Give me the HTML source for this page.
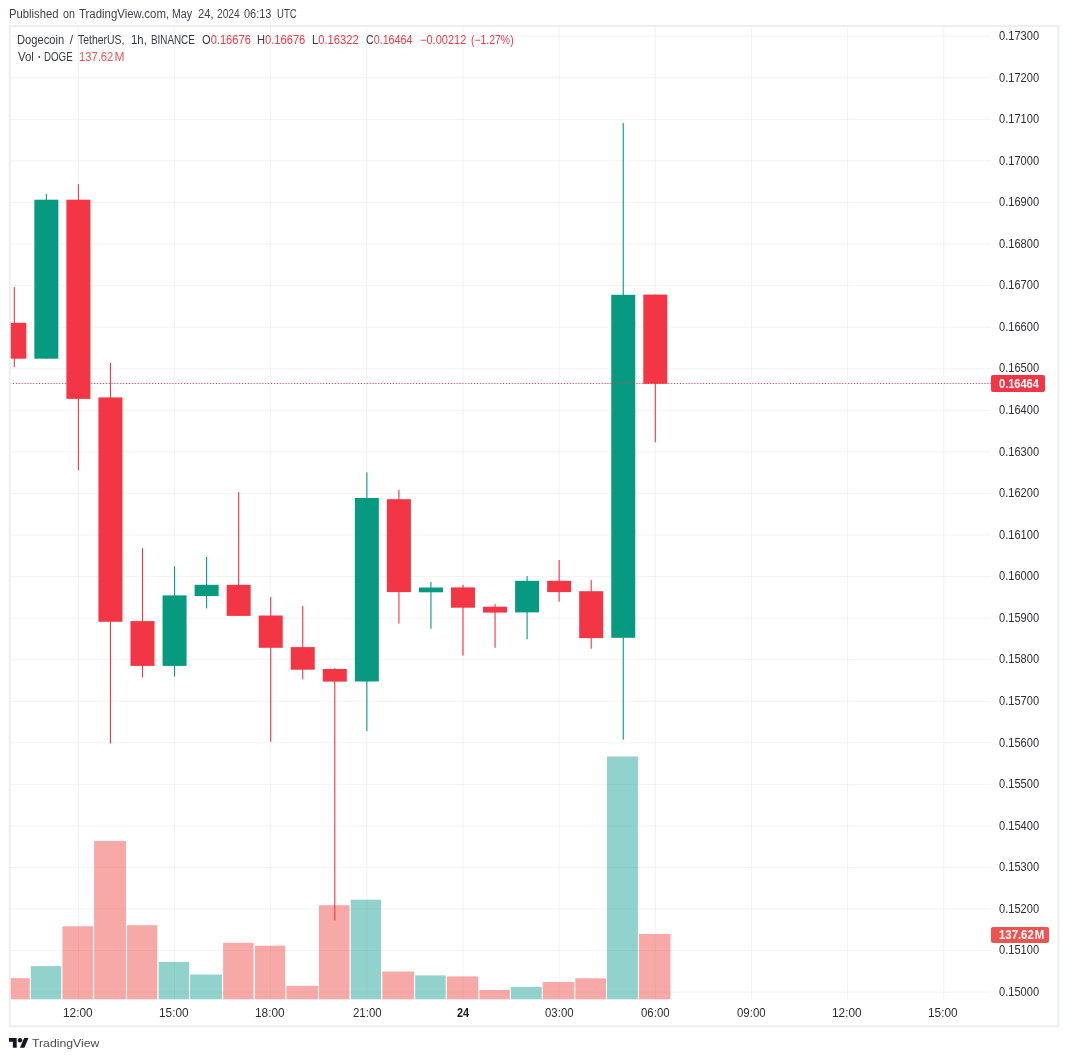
<!DOCTYPE html>
<html><head><meta charset="utf-8"><title>DOGEUSDT chart</title>
<style>
html,body{margin:0;padding:0;background:#fff}
body{width:1068px;height:1060px;position:relative;overflow:hidden;font-family:"Liberation Sans",sans-serif;color:#131722}
.t{position:absolute;white-space:nowrap;line-height:16px;height:16px;transform-origin:0 0}
.tag{position:absolute;left:991px;border-radius:2px}
</style></head><body>
<svg width="1068" height="1060" viewBox="0 0 1068 1060" style="position:absolute;left:0;top:0"><g fill="rgba(42,46,57,0.06)"><rect x="10.0" y="991.69" width="981.00" height="1"/><rect x="10.0" y="950.13" width="981.00" height="1"/><rect x="10.0" y="908.56" width="981.00" height="1"/><rect x="10.0" y="867.00" width="981.00" height="1"/><rect x="10.0" y="825.43" width="981.00" height="1"/><rect x="10.0" y="783.87" width="981.00" height="1"/><rect x="10.0" y="742.30" width="981.00" height="1"/><rect x="10.0" y="700.74" width="981.00" height="1"/><rect x="10.0" y="659.17" width="981.00" height="1"/><rect x="10.0" y="617.61" width="981.00" height="1"/><rect x="10.0" y="576.04" width="981.00" height="1"/><rect x="10.0" y="534.48" width="981.00" height="1"/><rect x="10.0" y="492.91" width="981.00" height="1"/><rect x="10.0" y="451.35" width="981.00" height="1"/><rect x="10.0" y="409.78" width="981.00" height="1"/><rect x="10.0" y="368.22" width="981.00" height="1"/><rect x="10.0" y="326.66" width="981.00" height="1"/><rect x="10.0" y="285.09" width="981.00" height="1"/><rect x="10.0" y="243.53" width="981.00" height="1"/><rect x="10.0" y="201.96" width="981.00" height="1"/><rect x="10.0" y="160.40" width="981.00" height="1"/><rect x="10.0" y="118.83" width="981.00" height="1"/><rect x="10.0" y="77.27" width="981.00" height="1"/><rect x="10.0" y="35.70" width="981.00" height="1"/><rect x="77.90" y="26.5" width="1" height="972.80"/><rect x="174.05" y="26.5" width="1" height="972.80"/><rect x="270.20" y="26.5" width="1" height="972.80"/><rect x="366.35" y="26.5" width="1" height="972.80"/><rect x="462.50" y="26.5" width="1" height="972.80"/><rect x="558.65" y="26.5" width="1" height="972.80"/><rect x="654.80" y="26.5" width="1" height="972.80"/><rect x="750.95" y="26.5" width="1" height="972.80"/><rect x="847.10" y="26.5" width="1" height="972.80"/><rect x="943.25" y="26.5" width="1" height="972.80"/></g><rect x="10.00" y="978.20" width="19.70" height="21.10" fill="rgba(239,83,80,0.5)"/><rect x="30.80" y="966.10" width="30.44" height="33.20" fill="rgba(38,166,154,0.5)"/><rect x="62.43" y="926.30" width="30.49" height="73.00" fill="rgba(239,83,80,0.5)"/><rect x="94.10" y="840.90" width="31.89" height="158.40" fill="rgba(239,83,80,0.5)"/><rect x="126.98" y="925.20" width="30.32" height="74.10" fill="rgba(239,83,80,0.5)"/><rect x="158.70" y="962.00" width="30.30" height="37.30" fill="rgba(38,166,154,0.5)"/><rect x="190.10" y="974.50" width="31.90" height="24.80" fill="rgba(38,166,154,0.5)"/><rect x="223.10" y="942.80" width="30.50" height="56.50" fill="rgba(239,83,80,0.5)"/><rect x="255.00" y="945.70" width="30.20" height="53.60" fill="rgba(239,83,80,0.5)"/><rect x="286.40" y="985.90" width="31.60" height="13.40" fill="rgba(239,83,80,0.5)"/><rect x="319.00" y="905.20" width="30.50" height="94.10" fill="rgba(239,83,80,0.5)"/><rect x="350.70" y="899.70" width="30.40" height="99.60" fill="rgba(38,166,154,0.5)"/><rect x="382.30" y="971.50" width="31.70" height="27.80" fill="rgba(239,83,80,0.5)"/><rect x="415.20" y="975.40" width="30.50" height="23.90" fill="rgba(38,166,154,0.5)"/><rect x="446.80" y="976.40" width="31.40" height="22.90" fill="rgba(239,83,80,0.5)"/><rect x="479.40" y="990.00" width="30.40" height="9.30" fill="rgba(239,83,80,0.5)"/><rect x="511.00" y="986.90" width="30.70" height="12.40" fill="rgba(38,166,154,0.5)"/><rect x="542.70" y="982.00" width="31.40" height="17.30" fill="rgba(239,83,80,0.5)"/><rect x="575.30" y="978.30" width="30.70" height="21.00" fill="rgba(239,83,80,0.5)"/><rect x="607.00" y="756.50" width="30.90" height="242.80" fill="rgba(38,166,154,0.5)"/><rect x="638.90" y="934.00" width="31.60" height="65.30" fill="rgba(239,83,80,0.5)"/><rect x="13.75" y="287.20" width="1.1" height="80.00" fill="#F23645"/><rect x="10.00" y="322.80" width="16.30" height="35.90" fill="#F23645"/><rect x="45.80" y="193.80" width="1.1" height="164.90" fill="#089981"/><rect x="34.35" y="199.70" width="24.00" height="159.00" fill="#089981"/><rect x="77.85" y="184.20" width="1.1" height="286.10" fill="#F23645"/><rect x="66.40" y="199.70" width="24.00" height="199.20" fill="#F23645"/><rect x="109.90" y="363.00" width="1.1" height="380.50" fill="#F23645"/><rect x="98.45" y="397.40" width="24.00" height="224.40" fill="#F23645"/><rect x="141.95" y="548.20" width="1.1" height="129.30" fill="#F23645"/><rect x="130.50" y="621.10" width="24.00" height="44.80" fill="#F23645"/><rect x="174.00" y="566.40" width="1.1" height="110.20" fill="#089981"/><rect x="162.55" y="595.40" width="24.00" height="70.50" fill="#089981"/><rect x="206.05" y="556.90" width="1.1" height="51.50" fill="#089981"/><rect x="194.60" y="584.80" width="24.00" height="11.30" fill="#089981"/><rect x="238.10" y="492.20" width="1.1" height="123.70" fill="#F23645"/><rect x="226.65" y="584.80" width="24.00" height="31.10" fill="#F23645"/><rect x="270.15" y="596.90" width="1.1" height="144.90" fill="#F23645"/><rect x="258.70" y="615.50" width="24.00" height="32.30" fill="#F23645"/><rect x="302.20" y="605.80" width="1.1" height="73.60" fill="#F23645"/><rect x="290.75" y="647.10" width="24.00" height="22.60" fill="#F23645"/><rect x="334.25" y="668.00" width="1.1" height="252.40" fill="#F23645"/><rect x="322.80" y="669.00" width="24.00" height="12.60" fill="#F23645"/><rect x="366.30" y="472.30" width="1.1" height="258.90" fill="#089981"/><rect x="354.85" y="498.00" width="24.00" height="183.50" fill="#089981"/><rect x="398.35" y="489.80" width="1.1" height="133.70" fill="#F23645"/><rect x="386.90" y="499.20" width="24.00" height="92.90" fill="#F23645"/><rect x="430.40" y="582.00" width="1.1" height="46.70" fill="#089981"/><rect x="418.95" y="587.50" width="24.00" height="4.80" fill="#089981"/><rect x="462.45" y="584.80" width="1.1" height="70.80" fill="#F23645"/><rect x="451.00" y="587.40" width="24.00" height="20.30" fill="#F23645"/><rect x="494.50" y="603.90" width="1.1" height="43.90" fill="#F23645"/><rect x="483.05" y="606.70" width="24.00" height="5.90" fill="#F23645"/><rect x="526.55" y="576.10" width="1.1" height="63.20" fill="#089981"/><rect x="515.10" y="580.80" width="24.00" height="31.60" fill="#089981"/><rect x="558.60" y="560.00" width="1.1" height="41.80" fill="#F23645"/><rect x="547.15" y="580.80" width="24.00" height="11.30" fill="#F23645"/><rect x="590.65" y="580.10" width="1.1" height="68.60" fill="#F23645"/><rect x="579.20" y="591.20" width="24.00" height="46.90" fill="#F23645"/><rect x="622.70" y="122.90" width="1.1" height="616.80" fill="#089981"/><rect x="611.25" y="294.80" width="24.00" height="343.00" fill="#089981"/><rect x="654.75" y="294.60" width="1.1" height="147.70" fill="#F23645"/><rect x="643.30" y="294.60" width="24.00" height="89.20" fill="#F23645"/><line x1="10.0" y1="383.5" x2="991.0" y2="383.5" stroke="#F23645" stroke-width="1.1" stroke-dasharray="1.1 1.8"/><rect x="9.8" y="26.0" width="1048.6" height="1000.3" fill="none" stroke="#ECEEF3" stroke-width="2"/></svg>
<div class="tag" style="top:375px;width:54px;height:17px;background:#F23645"></div>
<div class="tag" style="top:926.5px;width:58px;height:16.3px;background:#EF5350"></div>
<div class="t" style="left:9.26px;top:5.84px;font-size:12px;transform:scaleX(0.9392);color:#40434e">Published</div>
<div class="t" style="left:62.90px;top:5.84px;font-size:12px;transform:scaleX(0.8923);color:#40434e">on</div>
<div class="t" style="left:79.10px;top:5.84px;font-size:12px;transform:scaleX(0.9511);color:#40434e">TradingView.com,</div>
<div class="t" style="left:172.42px;top:5.84px;font-size:12px;transform:scaleX(0.8818);color:#40434e">May</div>
<div class="t" style="left:197.70px;top:5.84px;font-size:12px;transform:scaleX(0.9375);color:#40434e">24,</div>
<div class="t" style="left:217.20px;top:5.84px;font-size:12px;transform:scaleX(0.8481);color:#40434e">2024</div>
<div class="t" style="left:244.40px;top:5.84px;font-size:12px;transform:scaleX(0.9133);color:#40434e">06:13</div>
<div class="t" style="left:276.60px;top:5.84px;font-size:12px;transform:scaleX(0.8000);color:#40434e">UTC</div>
<div class="t" style="left:16.57px;top:31.94px;font-size:12px;transform:scaleX(0.9286);color:#363a45">Dogecoin</div>
<div class="t" style="left:69.85px;top:31.94px;font-size:12px;transform:scaleX(1.0000);color:#363a45">/</div>
<div class="t" style="left:77.80px;top:31.94px;font-size:12px;transform:scaleX(0.8698);color:#363a45">TetherUS,</div>
<div class="t" style="left:131.15px;top:31.94px;font-size:12px;transform:scaleX(0.9467);color:#363a45">1h,</div>
<div class="t" style="left:150.58px;top:31.94px;font-size:12px;transform:scaleX(0.8212);color:#363a45">BINANCE</div>
<div class="t" style="left:202.20px;top:31.94px;font-size:12px;transform:scaleX(0.9269);color:#363a45">O<span style="color:#F23645">0.16676</span></div>
<div class="t" style="left:256.77px;top:31.94px;font-size:12px;transform:scaleX(0.9275);color:#363a45">H<span style="color:#F23645">0.16676</span></div>
<div class="t" style="left:312.37px;top:31.94px;font-size:12px;transform:scaleX(0.9327);color:#363a45">L<span style="color:#F23645">0.16322</span></div>
<div class="t" style="left:366.20px;top:31.94px;font-size:12px;transform:scaleX(0.8923);color:#363a45">C<span style="color:#F23645">0.16464</span></div>
<div class="t" style="left:419.68px;top:31.94px;font-size:12px;transform:scaleX(0.9184);color:#F23645">&minus;0.00212</div>
<div class="t" style="left:471.20px;top:31.94px;font-size:12px;transform:scaleX(0.8694);color:#F23645">(&minus;1.27%)</div>
<div class="t" style="left:17.60px;top:48.64px;font-size:12px;transform:scaleX(0.9500);color:#363a45">Vol</div>
<div class="t" style="left:37.50px;top:48.64px;font-size:12px;transform:scaleX(0.7667);color:#363a45"><b>&middot;</b></div>
<div class="t" style="left:43.79px;top:48.64px;font-size:12px;transform:scaleX(0.8118);color:#363a45">DOGE</div>
<div class="t" style="left:79.27px;top:48.64px;font-size:12px;transform:scaleX(0.9314);color:#ef5350">137.62</div>
<div class="t" style="left:114.50px;top:48.64px;font-size:12px;transform:scaleX(1.0000);color:#ef5350">M</div>
<div class="t" style="left:998.80px;top:983.94px;font-size:12px;transform:scaleX(0.9233);color:#2a2e39">0.15000</div>
<div class="t" style="left:998.80px;top:942.37px;font-size:12px;transform:scaleX(0.9233);color:#2a2e39">0.15100</div>
<div class="t" style="left:998.80px;top:900.81px;font-size:12px;transform:scaleX(0.9233);color:#2a2e39">0.15200</div>
<div class="t" style="left:998.80px;top:859.24px;font-size:12px;transform:scaleX(0.9233);color:#2a2e39">0.15300</div>
<div class="t" style="left:998.80px;top:817.68px;font-size:12px;transform:scaleX(0.9233);color:#2a2e39">0.15400</div>
<div class="t" style="left:998.80px;top:776.11px;font-size:12px;transform:scaleX(0.9233);color:#2a2e39">0.15500</div>
<div class="t" style="left:998.80px;top:734.55px;font-size:12px;transform:scaleX(0.9233);color:#2a2e39">0.15600</div>
<div class="t" style="left:998.80px;top:692.98px;font-size:12px;transform:scaleX(0.9233);color:#2a2e39">0.15700</div>
<div class="t" style="left:998.80px;top:651.42px;font-size:12px;transform:scaleX(0.9233);color:#2a2e39">0.15800</div>
<div class="t" style="left:998.80px;top:609.85px;font-size:12px;transform:scaleX(0.9233);color:#2a2e39">0.15900</div>
<div class="t" style="left:998.80px;top:568.29px;font-size:12px;transform:scaleX(0.9233);color:#2a2e39">0.16000</div>
<div class="t" style="left:998.80px;top:526.72px;font-size:12px;transform:scaleX(0.9233);color:#2a2e39">0.16100</div>
<div class="t" style="left:998.80px;top:485.16px;font-size:12px;transform:scaleX(0.9233);color:#2a2e39">0.16200</div>
<div class="t" style="left:998.80px;top:443.59px;font-size:12px;transform:scaleX(0.9233);color:#2a2e39">0.16300</div>
<div class="t" style="left:998.80px;top:402.03px;font-size:12px;transform:scaleX(0.9233);color:#2a2e39">0.16400</div>
<div class="t" style="left:998.80px;top:360.46px;font-size:12px;transform:scaleX(0.9233);color:#2a2e39">0.16500</div>
<div class="t" style="left:998.80px;top:318.90px;font-size:12px;transform:scaleX(0.9233);color:#2a2e39">0.16600</div>
<div class="t" style="left:998.80px;top:277.33px;font-size:12px;transform:scaleX(0.9233);color:#2a2e39">0.16700</div>
<div class="t" style="left:998.80px;top:235.77px;font-size:12px;transform:scaleX(0.9233);color:#2a2e39">0.16800</div>
<div class="t" style="left:998.80px;top:194.20px;font-size:12px;transform:scaleX(0.9233);color:#2a2e39">0.16900</div>
<div class="t" style="left:998.80px;top:152.64px;font-size:12px;transform:scaleX(0.9233);color:#2a2e39">0.17000</div>
<div class="t" style="left:998.80px;top:111.07px;font-size:12px;transform:scaleX(0.9233);color:#2a2e39">0.17100</div>
<div class="t" style="left:998.80px;top:69.51px;font-size:12px;transform:scaleX(0.9233);color:#2a2e39">0.17200</div>
<div class="t" style="left:998.80px;top:27.94px;font-size:12px;transform:scaleX(0.9233);color:#2a2e39">0.17300</div>
<div class="t" style="left:998.80px;top:375.64px;font-size:12px;transform:scaleX(0.9182);color:#fff;font-weight:bold">0.16464</div>
<div class="t" style="left:999.30px;top:926.64px;font-size:12px;transform:scaleX(0.9468);color:#fff;font-weight:bold">137.62&#8202;M</div>
<div class="t" style="left:63.11px;top:1004.84px;font-size:12px;transform:scaleX(0.9862);color:#2a2e39">12:00</div>
<div class="t" style="left:159.26px;top:1004.84px;font-size:12px;transform:scaleX(0.9862);color:#2a2e39">15:00</div>
<div class="t" style="left:255.41px;top:1004.84px;font-size:12px;transform:scaleX(0.9862);color:#2a2e39">18:00</div>
<div class="t" style="left:352.55px;top:1004.84px;font-size:12px;transform:scaleX(0.9533);color:#2a2e39">21:00</div>
<div class="t" style="left:456.65px;top:1004.84px;font-size:12px;transform:scaleX(0.9071);color:#131722;font-weight:bold">24</div>
<div class="t" style="left:544.85px;top:1004.84px;font-size:12px;transform:scaleX(0.9533);color:#2a2e39">03:00</div>
<div class="t" style="left:641.00px;top:1004.84px;font-size:12px;transform:scaleX(0.9533);color:#2a2e39">06:00</div>
<div class="t" style="left:737.15px;top:1004.84px;font-size:12px;transform:scaleX(0.9533);color:#2a2e39">09:00</div>
<div class="t" style="left:832.31px;top:1004.84px;font-size:12px;transform:scaleX(0.9862);color:#2a2e39">12:00</div>
<div class="t" style="left:928.46px;top:1004.84px;font-size:12px;transform:scaleX(0.9862);color:#2a2e39">15:00</div>
<div class="t" style="left:31.80px;top:1035.42px;font-size:11.5px;transform:scaleX(1.0651);color:#4a4d58">TradingView</div>
<svg style="position:absolute;left:9.15px;top:1037.85px" width="19.5" height="9.85" viewBox="0 4 35.5 18" preserveAspectRatio="none"><path fill="#131722" d="M14 22H7V11H0V4h14v18zM28 22h-8l7.5-18h8L28 22z"/><circle fill="#131722" cx="20" cy="8" r="4"/></svg>
</body></html>
